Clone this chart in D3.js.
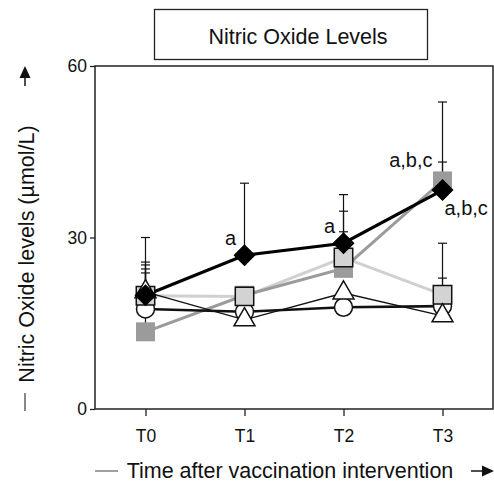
<!DOCTYPE html>
<html lang="en">
<head>
  <meta charset="UTF-8" />
  <title>Nitric Oxide Levels</title>
  <script src="https://cdn.jsdelivr.net/npm/d3@7"></script>
  <style>
    body {
      margin: 0;
      background: white;
      font-family: "Liberation Sans", Arial, sans-serif;
    }
    svg text {
      fill: #111;
    }
    .tick text {
      font-size: 17.5px;
      font-family: "Liberation Sans", Arial, sans-serif;
    }
  </style>
</head>
<body>
  <div id="chart"></div>

  <script>
    // timepoints
    const timepoints = ["T0", "T1", "T2", "T3"];
    const yTicks = [0, 30, 60];

    // means and upper error bar ends (umol/L), null = no bar visible
    const diamondMean = [19.9, 26.9, 29.0, 38.3];
    const diamondErr = [30.0, 39.5, 37.5, 53.7];
    const darkSqMean = [13.5, 19.9, 24.6, 39.9];
    const darkSqErr = [25.2, null, 31.0, 43.2];
    const lightSqMean = [19.8, 19.7, 26.5, 20.0];
    const lightSqErr = [25.7, null, 34.6, 29.0];
    const triMean = [20.5, 15.6, 20.3, 16.3];
    const triErr = [24.5, null, null, 22.9];
    const circMean = [17.5, 17.0, 17.8, 18.0];
    const circErr = [23.8, null, null, null];

    // significance labels
    const annoTime = ["T1", "T2", "T3", "T3"];
    const annoText = ["a", "a", "a,b,c", "a,b,c"];
    const annoValue = [26.9, 29.0, 43.2, 38.3];

    const width = 494, height = 484;
    const margin = { left: 95, right: 1, top: 66, bottom: 75 };

    const svg = d3.select("#chart").append("svg")
      .attr("width", width)
      .attr("height", height);

    const x = d3.scalePoint()
      .domain(timepoints)
      .range([margin.left, width - margin.right])
      .padding(0.51);

    const y = d3.scaleLinear()
      .domain([0, 60])
      .range([height - margin.bottom, margin.top]);

    // title box
    svg.append("rect")
      .attr("x", 154.5).attr("y", 9.5)
      .attr("width", 273).attr("height", 50)
      .attr("fill", "white")
      .attr("stroke", "#222")
      .attr("stroke-width", 1.3);
    svg.append("text")
      .attr("x", 298).attr("y", 44)
      .attr("text-anchor", "middle")
      .style("font-size", "21.5px")
      .text("Nitric Oxide Levels");

    // frame
    svg.append("rect")
      .attr("x", margin.left).attr("y", margin.top)
      .attr("width", width - margin.left - margin.right)
      .attr("height", height - margin.top - margin.bottom)
      .attr("fill", "none")
      .attr("stroke", "#222")
      .attr("stroke-width", 1.5);

    const yAxis = svg.append("g")
      .attr("transform", `translate(${margin.left},0)`)
      .call(d3.axisLeft(y).tickValues(yTicks).tickSize(5).tickPadding(3));
    yAxis.select(".domain").remove();
    yAxis.selectAll("line").attr("stroke", "#222").attr("stroke-width", 1.3);

    const xAxis = svg.append("g")
      .attr("transform", `translate(0,${height - margin.bottom})`)
      .call(d3.axisBottom(x).tickSize(7).tickPadding(14));
    xAxis.select(".domain").remove();
    xAxis.selectAll("line").attr("stroke", "#222").attr("stroke-width", 1.3);

    // axis titles with arrows
    svg.append("text")
      .attr("transform", "translate(34,254) rotate(-90)")
      .attr("text-anchor", "middle")
      .style("font-size", "21.5px")
      .text("Nitric Oxide levels (\u00b5mol/L)");
    svg.append("line")
      .attr("x1", 25).attr("x2", 25).attr("y1", 86).attr("y2", 74)
      .attr("stroke", "#222").attr("stroke-width", 1.6);
    svg.append("path")
      .attr("d", "M25,66 L19.5,78 L30.5,78 Z")
      .attr("fill", "#111");
    svg.append("line")
      .attr("x1", 25).attr("x2", 25).attr("y1", 393).attr("y2", 411)
      .attr("stroke", "#555").attr("stroke-width", 1.4);

    svg.append("text")
      .attr("x", 290).attr("y", 478)
      .attr("text-anchor", "middle")
      .style("font-size", "21.5px")
      .text("Time after vaccination intervention");
    svg.append("line")
      .attr("x1", 95).attr("x2", 118).attr("y1", 471).attr("y2", 471)
      .attr("stroke", "#777").attr("stroke-width", 1.4);
    svg.append("line")
      .attr("x1", 471).attr("x2", 484).attr("y1", 471).attr("y2", 471)
      .attr("stroke", "#222").attr("stroke-width", 1.6);
    svg.append("path")
      .attr("d", "M494,471 L482,465.5 L482,476.5 Z")
      .attr("fill", "#111");

    const series = [
      { mean: lightSqMean, err: lightSqErr, line: "#d0d0d0", lw: 3 },
      { mean: darkSqMean, err: darkSqErr, line: "#9b9b9b", lw: 3 },
      { mean: triMean, err: triErr, line: "#111", lw: 1.4 },
      { mean: circMean, err: circErr, line: "#111", lw: 2.6 },
      { mean: diamondMean, err: diamondErr, line: "#000", lw: 3.2 }
    ];

    const line = d3.line()
      .x((d, i) => x(timepoints[i]))
      .y(d => y(d));

    // error bars (upper only)
    series.forEach(s => {
      s.err.forEach((e, i) => {
        if (e == null) return;
        const cx = x(timepoints[i]);
        svg.append("line")
          .attr("x1", cx).attr("x2", cx)
          .attr("y1", y(s.mean[i])).attr("y2", y(e))
          .attr("stroke", "#111").attr("stroke-width", 1.2);
        svg.append("line")
          .attr("x1", cx - 4.5).attr("x2", cx + 4.5)
          .attr("y1", y(e)).attr("y2", y(e))
          .attr("stroke", "#111").attr("stroke-width", 1.2);
      });
    });

    // lines
    series.forEach(s => {
      svg.append("path")
        .datum(s.mean)
        .attr("d", line)
        .attr("fill", "none")
        .attr("stroke", s.line)
        .attr("stroke-width", s.lw);
    });

    function markers(values, type, size, fill, stroke, rot) {
      svg.append("g").selectAll("path")
        .data(values)
        .enter()
        .append("path")
        .attr("d", d3.symbol().type(type).size(size))
        .attr("transform", (d, i) => `translate(${x(timepoints[i])},${y(d)}) rotate(${rot || 0})`)
        .attr("fill", fill)
        .attr("stroke", stroke)
        .attr("stroke-width", stroke === "none" ? 0 : 1.5);
    }

    markers(darkSqMean, d3.symbolSquare, 361, "#9b9b9b", "none");
    markers(circMean, d3.symbolCircle, 254, "white", "#111");
    markers(lightSqMean, d3.symbolSquare, 340, "#d3d3d3", "#111");
    markers(triMean, d3.symbolTriangle, 190, "white", "#111");
    markers(diamondMean, d3.symbolSquare, 200, "#000", "#000", 45);

    // annotations
    const annoDx = [-14, -14, -10, 2];
    const annoDy = [-10, -10, 5, 25];
    const annoAnchor = ["middle", "middle", "end", "start"];
    annoText.forEach((t, i) => {
      svg.append("text")
        .attr("x", x(annoTime[i]) + annoDx[i])
        .attr("y", y(annoValue[i]) + annoDy[i])
        .attr("text-anchor", annoAnchor[i])
        .style("font-size", "20px")
        .text(t);
    });
  </script>
</body>
</html>
